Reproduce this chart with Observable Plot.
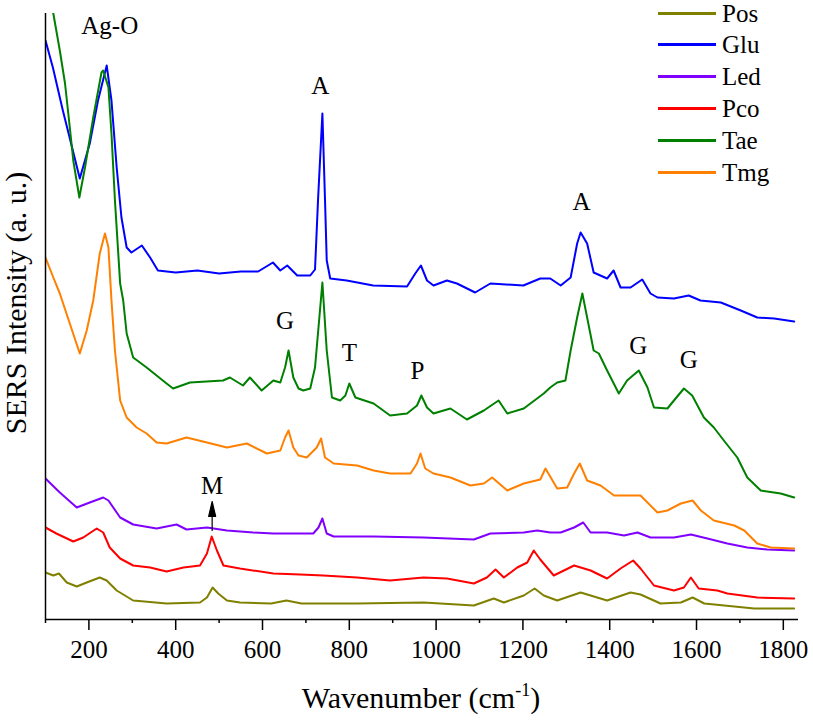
<!DOCTYPE html>
<html>
<head>
<meta charset="utf-8">
<script src="https://cdn.jsdelivr.net/npm/d3@7"></script>
<script src="https://cdn.jsdelivr.net/npm/@observablehq/plot@0.6"></script>
<style>
  html, body { margin: 0; padding: 0; background: #fff; overflow: hidden; }
  #wrap { position: relative; width: 813px; height: 722px; font-family: "Liberation Serif", "Times New Roman", Times, Tinos, "Nimbus Roman", "Nimbus Roman No9 L", "Noto Serif", "DejaVu Serif", FreeSerif, serif; }
  #wrap svg text { font-family: "Liberation Serif", "Times New Roman", Times, Tinos, "Nimbus Roman", "Nimbus Roman No9 L", "Noto Serif", "DejaVu Serif", FreeSerif, serif; }
  #legend { position: absolute; left: 658px; top: 0; }
  .row { position: absolute; left: 0; height: 0; }
  .row .sw { position: absolute; left: 0; top: -1px; width: 58px; height: 2.5px; }
  .row .lb { position: absolute; left: 64px; top: -10px; font-size: 25px; line-height: 22px; white-space: nowrap; color: #000; }
</style>
</head>
<body>
<div id="wrap"></div>
<script>
// Series names, colours (legend order)
const seriesNames = ["Pos", "Glu", "Led", "Pco", "Tae", "Tmg"];
const seriesColors = ["#808000", "#0000ff", "#8000ff", "#ff0000", "#008000", "#ff8000"];

// Spectra: [wavenumber (cm-1), SERS intensity (a.u., stacked offset as plotted)]
const pos = [[100,47],[118,44],[131,46],[149,37],[172,33],[195,37],[225,42],[241,39],[264,29],[302,19],[379,16],[456,17],[472,22],[485,32],[498,26],[518,19],[548,17],[620,16],[655,19],[690,16],[818,16],[971,17],[1087,14],[1133,21],[1156,17],[1202,24],[1227,31],[1248,24],[1279,19],[1333,27],[1394,19],[1448,27],[1471,25],[1517,16],[1564,17],[1591,22],[1618,16],[1664,14],[1733,11],[1825,11]];
const glu = [[100,579],[117,552],[140,509],[163,469],[179,441],[202,476],[221,519],[241,554],[252,519],[264,452],[275,402],[287,372],[298,367],[322,374],[341,362],[359,349],[400,347],[450,349],[500,346],[550,348],[590,348],[624,357],[641,349],[657,354],[680,344],[710,344],[721,350],[728,420],[738,506],[744,420],[748,359],[756,341],[794,339],[855,334],[933,333],[952,346],[965,354],[979,339],[994,334],[1025,339],[1048,336],[1090,327],[1125,336],[1201,334],[1240,341],[1263,341],[1287,334],[1310,342],[1325,376],[1333,387],[1348,376],[1363,347],[1394,341],[1409,349],[1425,332],[1448,332],[1475,340],[1494,326],[1510,322],[1548,321],[1582,324],[1609,319],[1656,317],[1702,309],[1740,302],[1779,301],[1825,298]];
const led = [[100,141],[133,127],[172,112],[202,117],[233,122],[245,119],[272,102],[302,95],[356,91],[402,95],[425,90],[472,92],[518,89],[579,87],[625,86],[687,86],[717,86],[729,92],[738,101],[748,86],[764,83],[856,83],[971,82],[1087,80],[1125,86],[1202,87],[1233,89],[1263,87],[1287,87],[1318,92],[1339,97],[1356,87],[1394,87],[1433,84],[1464,87],[1494,82],[1548,82],[1587,85],[1625,81],[1671,76],[1717,72],[1763,70],[1825,69]];
const pco = [[100,92],[125,86],[164,78],[187,82],[218,91],[233,87],[248,72],[272,61],[302,54],[341,52],[379,48],[418,52],[456,54],[472,66],[483,83],[495,69],[510,54],[548,51],[625,46],[687,45],[740,44],[818,42],[894,39],[971,42],[1025,41],[1087,36],[1117,42],[1137,50],[1156,42],[1187,52],[1210,57],[1225,69],[1240,60],[1271,44],[1318,54],[1356,49],[1394,41],[1425,51],[1454,59],[1471,51],[1502,34],[1548,29],[1571,32],[1587,42],[1605,31],[1648,29],[1671,26],[1740,22],[1825,21]];
const tae = [[100,650],[118,606],[133,569],[145,536],[156,492],[164,459],[178,422],[191,452],[210,502],[229,547],[233,549],[245,532],[252,486],[260,419],[272,336],[279,319],[287,286],[302,262],[333,252],[379,236],[394,231],[433,237],[509,239],[525,242],[555,234],[571,242],[598,229],[625,239],[641,237],[652,252],[660,269],[671,242],[683,231],[694,229],[710,231],[721,252],[729,292],[738,337],[748,269],[760,222],[779,219],[791,224],[800,236],[814,222],[856,216],[894,204],[933,206],[956,214],[966,224],[979,212],[994,206],[1033,211],[1071,200],[1110,209],[1144,219],[1164,206],[1202,211],[1248,226],[1263,232],[1279,237],[1298,239],[1310,269],[1325,302],[1337,326],[1348,302],[1363,269],[1375,266],[1394,249],[1421,226],[1440,239],[1467,249],[1487,232],[1502,212],[1533,211],[1548,219],[1571,231],[1590,224],[1617,202],[1640,192],[1663,179],[1694,162],[1717,142],[1748,129],[1794,126],[1825,122]];
const tmg = [[100,362],[118,342],[133,326],[156,296],[179,266],[195,289],[210,319],[225,366],[237,386],[245,372],[252,319],[260,269],[272,219],[287,202],[310,192],[333,186],[356,177],[379,176],[425,182],[472,177],[518,172],[564,176],[610,166],[641,169],[652,182],[660,189],[671,172],[683,164],[702,162],[725,172],[735,181],[744,162],[764,156],[818,154],[856,149],[894,146],[941,146],[956,156],[964,166],[975,151],[994,146],[1033,142],[1079,134],[1110,136],[1129,142],[1164,129],[1202,136],[1240,140],[1252,151],[1279,131],[1302,132],[1318,146],[1331,156],[1348,139],[1379,134],[1410,124],[1471,124],[1510,107],[1533,109],[1564,116],[1591,119],[1610,109],[1640,99],[1687,94],[1710,89],[1740,76],[1771,72],[1825,71]];

// Peak annotations
const annLabels = ["Ag-O", "A", "A", "G", "T", "P", "G", "G", "M"];
const annX = [248, 733, 1335, 652, 800, 957, 1466, 1582, 484];
const annY = [594, 534, 418, 299, 267, 249, 274, 260, 134];
// Arrow under "M"
const arrowX = [484];
const arrowY = [89];

// Axis ticks
const majorTicks = [200, 400, 600, 800, 1000, 1200, 1400, 1600, 1800];
const minorTicks = [100, 300, 500, 700, 900, 1100, 1300, 1500, 1700];
const xDomain = [100, 1835];
const yDomain = [0, 606];

const seriesData = [pos, glu, led, pco, tae, tmg];
const ann = annLabels.map((t, i) => ({t, x: annX[i], y: annY[i]}));
const arrows = arrowX.map((x, i) => ({x, y: arrowY[i]}));

const serif = '"Liberation Serif", "Times New Roman", Times, Tinos, "Nimbus Roman", "Noto Serif", "DejaVu Serif", FreeSerif, serif';

const arrowShape = {
  draw(context, l) {
    context.moveTo(0, 0);
    context.lineTo(0, -l + 14);
    context.moveTo(-3.5, -l + 15);
    context.lineTo(0, -l);
    context.lineTo(3.5, -l + 15);
    context.closePath();
  }
};

const chart = Plot.plot({
  width: 813,
  height: 722,
  marginLeft: 45,
  marginRight: 15,
  marginTop: 13,
  marginBottom: 103,
  x: {domain: xDomain, label: null},
  y: {domain: yDomain, axis: null},
  style: {fontFamily: serif, fontSize: "25px", color: "#000", background: "#fff", overflow: "visible"},
  marks: [
    ...seriesData.map((d, i) => Plot.line(d, {x: p => p[0], y: p => p[1], stroke: seriesColors[i], strokeWidth: 2, clip: true, strokeLinejoin: "round"})),
    Plot.ruleX([xDomain[0]], {stroke: "#000", strokeWidth: 1.5}),
    Plot.ruleY([yDomain[0]], {stroke: "#000", strokeWidth: 1.5}),
    Plot.axisX(majorTicks, {tickSize: 11, tickPadding: 10, tickFormat: d => String(d), label: null, strokeWidth: 1.5}),
    Plot.axisX(minorTicks, {tickSize: 4, tickFormat: () => "", label: null, strokeWidth: 1.5}),
    Plot.text(ann, {x: "x", y: "y", text: "t", fill: "#000", fontSize: 25}),
    Plot.vector(arrows, {x: "x", y: "y", length: 29, rotate: 0, anchor: "start", shape: arrowShape, stroke: "#000", fill: "#000", strokeWidth: 1.2})
  ]
});

const svg = d3.select(chart);
// x axis title with superscript
const xt = svg.append("text")
  .attr("x", 421).attr("y", 708)
  .attr("text-anchor", "middle")
  .style("font-family", serif)
  .attr("font-size", 30).attr("fill", "#000");
xt.append("tspan").text("Wavenumber (cm");
xt.append("tspan").attr("font-size", 18).attr("dy", -12).text("-1");
xt.append("tspan").attr("dy", 12).text(")");
// y axis title
svg.append("text")
  .attr("transform", "translate(26,303) rotate(-90)")
  .attr("text-anchor", "middle")
  .style("font-family", serif)
  .attr("font-size", 30).attr("fill", "#000")
  .text("SERS Intensity (a. u.)");

const wrap = document.getElementById("wrap");
wrap.appendChild(chart);

// Legend
const legend = document.createElement("div");
legend.id = "legend";
const rowY = [13, 44, 76, 108, 140, 172];
seriesNames.forEach((n, i) => {
  const r = document.createElement("div");
  r.className = "row";
  r.style.top = rowY[i] + "px";
  const sw = document.createElement("div");
  sw.className = "sw";
  sw.style.background = seriesColors[i];
  const lb = document.createElement("div");
  lb.className = "lb";
  lb.textContent = n;
  r.appendChild(sw); r.appendChild(lb);
  legend.appendChild(r);
});
wrap.appendChild(legend);
</script>
</body>
</html>
